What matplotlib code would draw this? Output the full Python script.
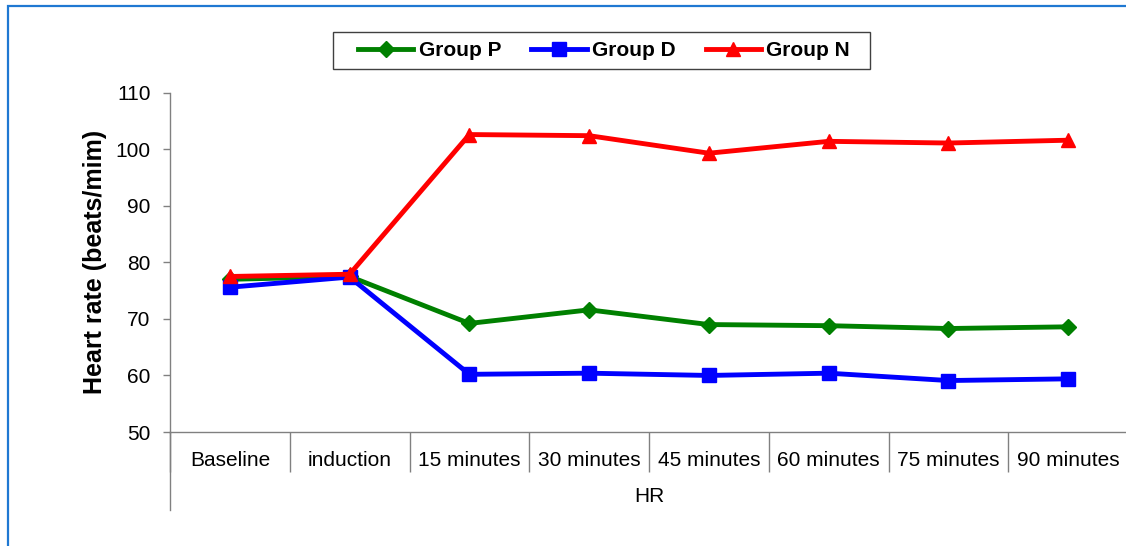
import matplotlib
matplotlib.use("Agg")
import matplotlib.pyplot as plt
from matplotlib.patches import Rectangle
from matplotlib.lines import Line2D

plt.rcParams['font.family'] = ['Liberation Sans', 'DejaVu Sans']

categories = ["Baseline", "induction", "15 minutes", "30 minutes", "45 minutes",
              "60 minutes", "75 minutes", "90 minutes"]
group_p = [77.0, 77.5, 69.2, 71.6, 69.0, 68.8, 68.3, 68.6]
group_d = [75.6, 77.4, 60.2, 60.4, 60.0, 60.4, 59.1, 59.4]
group_n = [77.5, 77.9, 102.6, 102.4, 99.3, 101.4, 101.1, 101.6]
series_names = ["Group P", "Group D", "Group N"]
y_ticks = [50, 60, 70, 80, 90, 100, 110]
x_title = "HR"
y_title = "Heart rate (beats/mim)"

W, H = 1126, 546
fig = plt.figure(figsize=(W / 100, H / 100), dpi=100)


def fx(px):
    return px / W


def fy(py):
    return (H - py) / H


# outer chart border (only top/left visible in reference)
fig.patches.append(Rectangle((fx(8), -0.05), 1.1, fy(6) + 0.05,
                             transform=fig.transFigure, fill=False,
                             edgecolor='#1f78d2', linewidth=1.6))

ax_l, ax_r, ax_t, ax_b = 170, 1128, 92.7, 432
ax = fig.add_axes([fx(ax_l), fy(ax_b), (ax_r - ax_l) / W, (ax_b - ax_t) / H])

xpos = [i + 0.5 for i in range(len(categories))]
styles = [
    (group_p, 'green', 'D', 8),
    (group_d, 'blue', 's', 10),
    (group_n, 'red', '^', 10),
]
handles = []
for (vals, col, mk, ms), name in zip(styles, series_names):
    h, = ax.plot(xpos, vals, color=col, marker=mk, markersize=ms, linewidth=3.5,
                 markeredgecolor=col, label=name, clip_on=False, zorder=3)
    handles.append(h)

ax.set_xlim(0, len(categories))
ax.set_ylim(50, 110)
ax.set_yticks(y_ticks)
ax.tick_params(axis='y', direction='out', length=5, width=1, color='#808080',
               labelsize=15, pad=9)

ax.set_xticks(range(len(categories) + 1))
ax.set_xticklabels([])
ax.set_xticks(xpos, minor=True)
ax.set_xticklabels(categories, minor=True)
ax.tick_params(axis='x', which='major', direction='out', length=29, width=1, color='#808080')
ax.tick_params(axis='x', which='minor', length=0, labelsize=15, pad=14)

for s in ['top', 'right']:
    ax.spines[s].set_visible(False)
for s in ['left', 'bottom']:
    ax.spines[s].set_color('#808080')
    ax.spines[s].set_linewidth(1)

# extended left axis line down to category title region
fig.add_artist(Line2D([fx(ax_l), fx(ax_l)], [fy(ax_b), fy(510)],
                      transform=fig.transFigure, color='#808080', linewidth=1))

fig.text(fx((ax_l + ax_r) / 2), fy(496), x_title, ha='center', va='center', fontsize=15)
fig.text(fx(95), fy(262), y_title, ha='center', va='center', rotation=90,
         fontsize=18, fontweight='bold')

leg = fig.legend(handles=handles, loc='center', bbox_to_anchor=(fx(604), fy(51)),
                 ncol=3, frameon=False,
                 prop={'weight': 'bold', 'size': 15}, handlelength=2.65,
                 columnspacing=1.45, handletextpad=0.25, borderpad=0.3)
fig.patches.append(Rectangle((fx(333), fy(69)), (870 - 333) / W, (69 - 32) / H,
                             transform=fig.transFigure, fill=False,
                             edgecolor='#404040', linewidth=1))

fig.savefig('out.png', dpi=100)
